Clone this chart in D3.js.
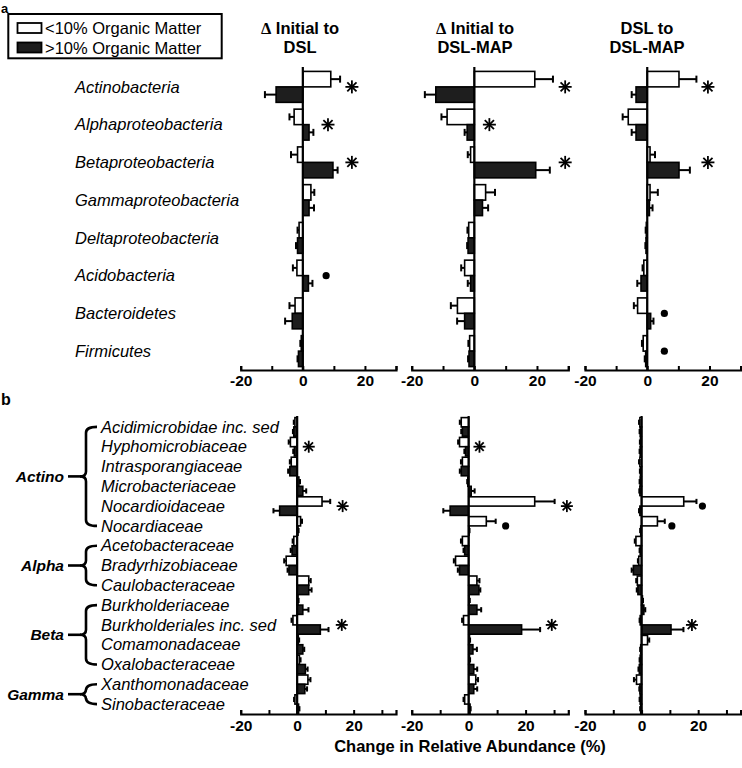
<!DOCTYPE html>
<html><head><meta charset="utf-8">
<script src="https://cdn.jsdelivr.net/npm/d3@7/dist/d3.min.js"></script>
<style>
body{margin:0;background:#fff;}
svg text{font-family:"Liberation Sans",Arial,Helvetica,sans-serif;fill:#000;}
</style></head>
<body><svg id="chart" width="742" height="768"></svg>
<script>
// ---------- DATA ----------
const panelTitles1 = ["Initial to", "Initial to", "DSL to"];
const panelTitles2 = ["DSL", "DSL-MAP", "DSL-MAP"];
const panelDelta = [true, true, false];
const legendLabels = ["<10% Organic Matter", ">10% Organic Matter"];

const phyla = ["Actinobacteria","Alphaproteobacteria","Betaproteobacteria","Gammaproteobacteria",
  "Deltaproteobacteria","Acidobacteria","Bacteroidetes","Firmicutes"];
// panel a, three comparisons: low (<10% OM, white) and high (>10% OM, black)
const aP1Low = [9.0,-2.8,-1.7,2.6,-1.2,-1.9,-2.5,-0.5];
const aP1LowErr = [3.0,1.5,2.1,1.1,0.5,1.3,1.8,0.3];
const aP1High = [-8.6,2.0,9.7,2.0,-1.7,1.8,-3.4,-1.4];
const aP1HighErr = [3.6,1.4,1.5,1.6,0.5,1.3,2.3,0.3];
const aP2Low = [19.3,-8.7,-1.2,3.6,-1.8,-3.1,-5.4,-1.5];
const aP2LowErr = [5.8,1.8,0.9,3.0,0.4,1.1,2.1,0.4];
const aP2High = [-12.3,-2.3,19.6,2.6,-2.0,-1.2,-3.1,-1.7];
const aP2HighErr = [3.5,0.8,4.5,1.8,0.3,0.9,2.4,0.3];
const aP3Low = [10.2,-6.1,0.9,0.9,-0.3,-1.1,-3.1,-1.3];
const aP3LowErr = [5.6,1.8,1.6,2.5,0.2,0.4,1.2,0.4];
const aP3High = [-3.6,-3.6,10.2,0.7,-0.4,-2.0,1.1,-0.5];
const aP3HighErr = [1.4,1.4,3.5,1.0,0.2,1.2,0.9,0.3];
// significance markers panel a
const aMarkPanel = [0,0,0,0,1,1,1,2,2,2,2];
const aMarkCat = ["Actinobacteria","Alphaproteobacteria","Betaproteobacteria","Acidobacteria",
  "Actinobacteria","Alphaproteobacteria","Betaproteobacteria",
  "Actinobacteria","Betaproteobacteria","Bacteroidetes","Firmicutes"];
const aMarkType = ["ast","ast","ast","dot","ast","ast","ast","ast","ast","dot","dot"];
const aMarkX = [15.8,8.1,15.8,7.5,29,4.8,29,19.5,19.5,5.5,5.5];

const families = ["Acidimicrobidae inc. sed","Hyphomicrobiaceae","Intrasporangiaceae","Microbacteriaceae",
  "Nocardioidaceae","Nocardiaceae","Acetobacteraceae","Bradyrhizobiaceae","Caulobacteraceae",
  "Burkholderiaceae","Burkholderiales inc. sed","Comamonadaceae","Oxalobacteraceae",
  "Xanthomonadaceae","Sinobacteraceae"];
const groupNames = ["Actino","Alpha","Beta","Gamma"];
const groupFirst = ["Acidimicrobidae inc. sed","Acetobacteraceae","Burkholderiaceae","Xanthomonadaceae"];
const groupLast = ["Nocardiaceae","Caulobacteraceae","Oxalobacteraceae","Sinobacteraceae"];

const bP1Low = [-0.8,-2.4,-2.1,0.6,8.8,1.2,-1.2,-3.9,4.1,0.3,-1.5,0.4,0.8,3.8,-0.8];
const bP1LowErr = [0.4,0.6,0.5,0.4,2.9,0.5,0.4,0.7,0.7,0.2,0.5,0.3,0.4,0.9,0.3];
const bP1High = [-1.2,-1.0,-2.6,2.0,-6.2,0.3,-1.8,-2.9,4.1,2.0,8.2,2.0,2.9,2.7,0.5];
const bP1HighErr = [0.3,0.4,0.6,1.2,2.2,0.2,0.5,0.5,1.0,2.0,2.9,0.5,0.8,0.8,0.3];
const bP2Low = [-2.6,-3.2,-2.2,-0.3,23.2,6.2,-2.2,-4.6,2.9,0.2,-1.8,0.3,0.3,2.5,-1.4];
const bP2LowErr = [0.5,0.5,0.5,0.2,7.0,3.3,0.5,0.6,0.9,0.2,0.5,0.2,0.2,0.8,0.4];
const bP2High = [-2.2,-1.1,-2.6,0.9,-6.5,0.2,-1.4,-3.2,3.6,2.9,18.6,1.5,1.8,1.8,0.5];
const bP2HighErr = [0.4,0.4,0.5,1.2,2.4,0.1,0.4,0.6,0.5,1.5,6.5,1.4,1.2,1.2,0.2];
const bP3Low = [-0.6,-0.4,-0.6,-0.5,14.9,5.6,-2.0,-1.0,-1.5,0.3,-0.5,2.1,-0.5,-1.8,-0.5];
const bP3LowErr = [0.3,0.2,0.3,0.2,4.5,2.6,0.4,0.3,0.4,0.2,0.2,0.6,0.2,0.9,0.2];
const bP3High = [-0.5,-0.5,-0.4,-0.6,-0.6,-0.3,-0.5,-2.9,-1.3,0.8,10.4,-0.3,-0.8,-0.6,-0.3];
const bP3HighErr = [0.2,0.2,0.2,0.2,0.3,0.2,0.2,0.6,0.4,0.5,4.4,0.2,0.3,0.2,0.2];
const bMarkPanel = [0,0,0,1,1,1,1,2,2,2];
const bMarkCat = ["Hyphomicrobiaceae","Nocardioidaceae","Burkholderiales inc. sed",
  "Hyphomicrobiaceae","Nocardioidaceae","Nocardiaceae","Burkholderiales inc. sed",
  "Nocardioidaceae","Nocardiaceae","Burkholderiales inc. sed"];
const bMarkType = ["ast","ast","ast","ast","ast","dot","ast","dot","dot","ast"];
const bMarkX = [4.1,16.1,15.8,3.8,34.5,13,29.2,21.5,10.7,17.8];

const aTicks = [-20,-10,0,10,20,30];
const tickLabels = [-20,0,20];
const xTitle = "Change in Relative Abundance (%)";

// ---------- LAYOUT ----------
const svg = d3.select("#chart");
const panelRanges = [[240.7,396],[411.7,568.3],[585,740.6]];

function drawSection(cfg){
  const y = d3.scaleBand().domain(cfg.cats).range([cfg.top, cfg.bottom]).padding(0);
  const sub = d3.scaleBand().domain(["low","high"]).range([0, y.bandwidth()])
      .paddingInner(0).paddingOuter(cfg.outerPad);
  const series = cfg.series;
  series.forEach((ser, p) => {
    const x = d3.scaleLinear().domain(cfg.domain).range(panelRanges[p]);
    const g = svg.append("g");
    ["low","high"].forEach(k => {
      const vals = ser[k], errs = ser[k+"Err"];
      const rows = cfg.cats.map((c,i)=>({c, v:vals[i], e:errs[i]}));
      // error bars
      rows.forEach(r => {
        const yc = y(r.c) + sub(k) + sub.bandwidth()/2;
        const end = r.v + Math.sign(r.v)*r.e;
        g.append("line").attr("x1", x(r.v)).attr("x2", x(end)).attr("y1", yc).attr("y2", yc)
          .attr("stroke","#000").attr("stroke-width",2);
        g.append("line").attr("x1", x(end)).attr("x2", x(end))
          .attr("y1", yc - cfg.cap).attr("y2", yc + cfg.cap)
          .attr("stroke","#000").attr("stroke-width",2);
      });
      g.selectAll(null).data(rows).join("rect")
        .attr("x", d => Math.min(x(0), x(d.v)))
        .attr("width", d => Math.abs(x(d.v) - x(0)))
        .attr("y", d => y(d.c) + sub(k))
        .attr("height", sub.bandwidth())
        .attr("fill", k==="low" ? "#fff" : "#1e1e1e")
        .attr("stroke","#000").attr("stroke-width",1.6);
    });
    // zero line
    g.append("line").attr("x1", x(0)).attr("x2", x(0)).attr("y1", cfg.top - 1).attr("y2", cfg.bottom)
      .attr("stroke","#000").attr("stroke-width",2.2);
    // axis
    const ax = d3.axisBottom(x).tickValues(aTicks).tickSizeInner(-4).tickSizeOuter(-4)
      .tickPadding(cfg.tickPad)
      .tickFormat(d => tickLabels.includes(d) ? String(d) : "");
    const axg = svg.append("g").attr("transform", `translate(0,${cfg.bottom})`).call(ax);
    axg.select(".domain").attr("stroke-width",2.2);
    axg.selectAll(".tick line").attr("stroke-width",2);
    axg.selectAll("text").attr("font-size",15.5).attr("font-weight","bold")
      .style("font-family","Liberation Sans, Arial, sans-serif");
    // markers
    cfg.markPanel.forEach((mp, i) => {
      if (mp !== p) return;
      const cx = x(cfg.markX[i]);
      const cy = y(cfg.markCat[i]) + y.bandwidth()/2;
      if (cfg.markType[i] === "dot") {
        g.append("circle").attr("cx",cx).attr("cy",cy).attr("r",3.6).attr("fill","#000");
      } else {
        const r = cfg.astR;
        for (let a = 0; a < 4; a++) {
          const ang = a*Math.PI/4;
          g.append("line")
            .attr("x1", cx - r*Math.cos(ang)).attr("y1", cy - r*Math.sin(ang))
            .attr("x2", cx + r*Math.cos(ang)).attr("y2", cy + r*Math.sin(ang))
            .attr("stroke","#000").attr("stroke-width",1.8);
        }
      }
    });
  });
  // category labels
  svg.append("g").selectAll("text").data(cfg.cats).join("text")
    .attr("x", cfg.labelX).attr("y", d => y(d) + y.bandwidth()/2).attr("dy","0.35em")
    .attr("font-size",16.5).attr("font-style","italic").text(d => d);
  return y;
}

const yA = drawSection({
  cats: phyla, top: 68, bottom: 370, outerPad: 0.22, domain: [-20,30], cap: 3.5, tickPad: 5, astR: 6.5,
  labelX: 75,
  series: [
    {low:aP1Low, lowErr:aP1LowErr, high:aP1High, highErr:aP1HighErr},
    {low:aP2Low, lowErr:aP2LowErr, high:aP2High, highErr:aP2HighErr},
    {low:aP3Low, lowErr:aP3LowErr, high:aP3High, highErr:aP3HighErr}],
  markPanel: aMarkPanel, markCat: aMarkCat, markType: aMarkType, markX: aMarkX
});
const yB = drawSection({
  cats: families, top: 417, bottom: 714, outerPad: 0.065, domain: [-20,35], cap: 2.6, tickPad: 6, astR: 6,
  labelX: 101,
  series: [
    {low:bP1Low, lowErr:bP1LowErr, high:bP1High, highErr:bP1HighErr},
    {low:bP2Low, lowErr:bP2LowErr, high:bP2High, highErr:bP2HighErr},
    {low:bP3Low, lowErr:bP3LowErr, high:bP3High, highErr:bP3HighErr}],
  markPanel: bMarkPanel, markCat: bMarkCat, markType: bMarkType, markX: bMarkX
});

// group braces panel b
groupNames.forEach((name, i) => {
  const y1 = yB(groupFirst[i]) + yB.bandwidth()/2;
  const y2 = yB(groupLast[i]) + yB.bandwidth()/2;
  const mid = (y1 + y2)/2;
  const bx = 86, hx = 97, tx = 80;
  const path = `M${hx},${y1} Q${bx},${y1} ${bx},${y1+6} L${bx},${mid-5} Q${bx},${mid} ${tx},${mid} Q${bx},${mid} ${bx},${mid+5} L${bx},${y2-6} Q${bx},${y2} ${hx},${y2}`;
  svg.append("path").attr("d", path).attr("fill","none").attr("stroke","#000").attr("stroke-width",2.6);
  svg.append("line").attr("x1",68).attr("x2",tx+1).attr("y1",mid).attr("y2",mid)
    .attr("stroke","#000").attr("stroke-width",2.6);
  svg.append("text").attr("x",64).attr("y",mid).attr("dy","0.35em").attr("text-anchor","end")
    .attr("font-size",15.5).attr("font-weight","bold").attr("font-style","italic").text(name);
});

// panel titles
const titleCenters = [300, 475, 647];
titleCenters.forEach((cx, i) => {
  const t = svg.append("text").attr("x", cx).attr("y", 34).attr("text-anchor","middle")
    .attr("font-size",16.5).attr("font-weight","bold");
  if (panelDelta[i]) {
    t.append("tspan").style("font-family","Liberation Serif, Times New Roman, serif").text("\u0394");
    t.append("tspan").text(" " + panelTitles1[i]);
  } else t.text(panelTitles1[i]);
  svg.append("text").attr("x", cx).attr("y", 53).attr("text-anchor","middle")
    .attr("font-size",16.5).attr("font-weight","bold").text(panelTitles2[i]);
});

// legend
svg.append("rect").attr("x",8.3).attr("y",14).attr("width",213.4).attr("height",44.3)
  .attr("fill","#fff").attr("stroke","#000").attr("stroke-width",2);
legendLabels.forEach((lab, i) => {
  svg.append("rect").attr("x",17.5).attr("y", i===0 ? 23 : 42.5).attr("width",24).attr("height",10)
    .attr("fill", i===0 ? "#fff" : "#1e1e1e").attr("stroke","#000").attr("stroke-width",1.8);
  svg.append("text").attr("x",45).attr("y", i===0 ? 34 : 54).attr("font-size",16.5).text(lab);
});

// panel letters
svg.append("text").attr("x",1).attr("y",13).attr("font-size",13).attr("font-weight","bold").text("a");
svg.append("text").attr("x",1).attr("y",405).attr("font-size",16).attr("font-weight","bold").text("b");

// axis title
svg.append("text").attr("x",470).attr("y",752).attr("text-anchor","middle")
  .attr("font-size",16.5).attr("font-weight","bold").text(xTitle);
</script>
</body></html>
